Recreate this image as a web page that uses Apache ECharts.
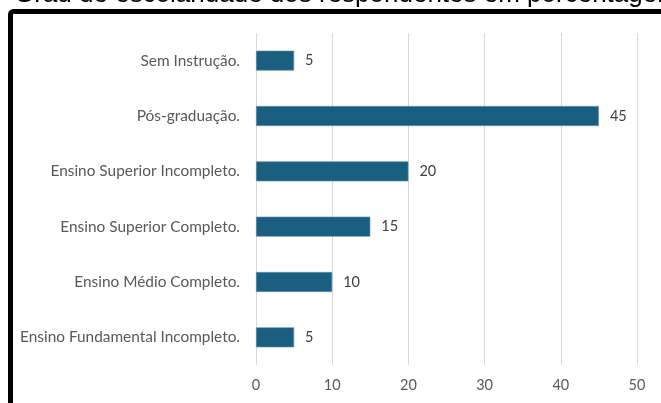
<!DOCTYPE html>
<html>
<head>
<meta charset="utf-8">
<script src="https://cdn.jsdelivr.net/npm/echarts@6/dist/echarts.min.js"></script>
<style>
  html, body { margin: 0; padding: 0; background: #ffffff; }
  #chart { width: 661px; height: 403px; }
</style>
</head>
<body>
<div id="chart"></div>
<script>
// Education level of respondents, in percent
const categories = [
  'Sem Instrução.',
  'Pós-graduação.',
  'Ensino Superior Incompleto.',
  'Ensino Superior Completo.',
  'Ensino Médio Completo.',
  'Ensino Fundamental Incompleto.'
];
const percentages = [5, 45, 20, 15, 10, 5];
const titleText = 'Grau de escolaridade dos respondentes em porcentagem';

const labelFont = 'Lato';
const labelSize = 15.4;

const chart = echarts.init(document.getElementById('chart'), null, { renderer: 'canvas' });

chart.setOption({
  animation: false,
  backgroundColor: '#ffffff',
  grid: { left: 256, right: 24, top: 33, bottom: 38, containLabel: false },
  xAxis: {
    type: 'value',
    min: 0,
    max: 50,
    interval: 10,
    axisLine: { show: false },
    axisTick: { show: false },
    splitLine: { show: true, lineStyle: { color: '#d9d9d9', width: 1 } },
    axisLabel: {
      color: '#595959',
      fontFamily: labelFont,
      fontSize: 14.5,
      margin: 13
    }
  },
  yAxis: {
    type: 'category',
    data: categories,
    inverse: true,
    axisLine: { show: false },
    axisTick: { show: false },
    axisLabel: {
      color: '#595959',
      fontFamily: labelFont,
      fontSize: labelSize,
      margin: 16
    }
  },
  series: [{
    type: 'bar',
    data: percentages,
    barWidth: 20,
    itemStyle: { color: '#1a5f80', borderColor: '#5f93ad', borderWidth: 0.6 },
    label: {
      show: true,
      position: 'right',
      distance: 11,
      color: '#404040',
      fontFamily: labelFont,
      fontSize: 14.5
    }
  }],
  graphic: [
    {
      type: 'rect',
      silent: true,
      shape: { x: 10.5, y: 11.5, width: 700, height: 450, r: 3 },
      style: { fill: null, stroke: '#000000', lineWidth: 5 }
    },
    {
      type: 'text',
      silent: true,
      x: 14,
      y: 8,
      style: {
        text: titleText,
        fill: '#000000',
        font: '26px "Liberation Sans", Arial, sans-serif',
        verticalAlign: 'bottom'
      }
    }
  ]
});
</script>
</body>
</html>
